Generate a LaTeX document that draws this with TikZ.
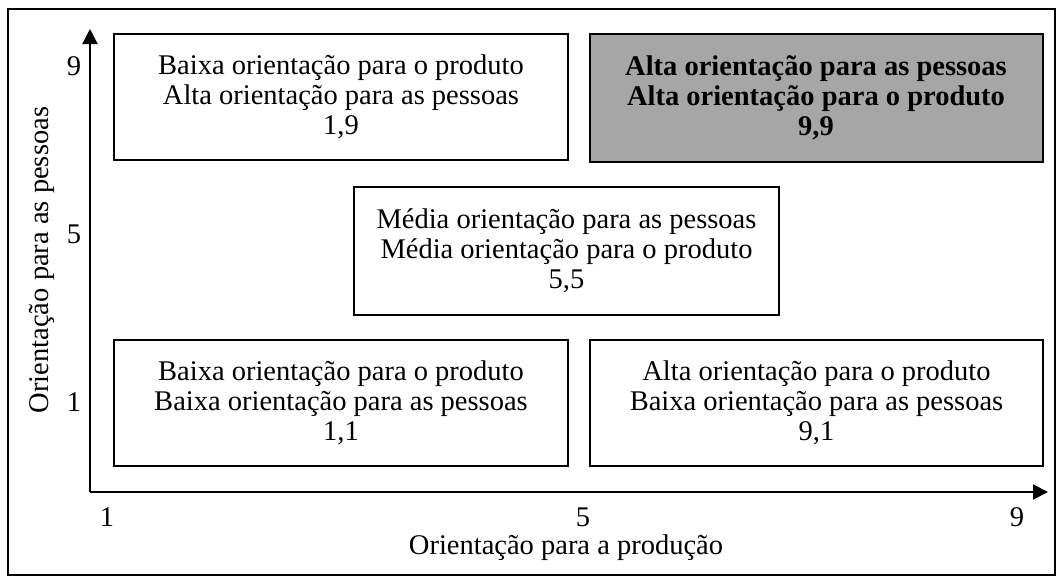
\documentclass[tikz,border=0pt]{standalone}
\usepackage{fontspec}
\setmainfont{Liberation Serif}
\usetikzlibrary{arrows.meta}
\definecolor{boxgray}{HTML}{A6A6A6}
\tikzset{
  quad/.style={draw=black, line width=2pt, minimum width=454pt, minimum height=126pt,
    align=center, font=\fontsize{28.5}{30}\selectfont, inner sep=0pt},
  tick/.style={font=\fontsize{28.5}{30}\selectfont, inner sep=0pt},
  axlabel/.style={font=\fontsize{28.5}{30}\selectfont, inner sep=0pt},
  axis/.style={line width=2pt, -{Triangle[length=15pt,width=15pt]}}
}
\begin{document}
\begin{tikzpicture}[x=1pt,y=-1pt]
\useasboundingbox (0,0) rectangle (1063,582);
\draw[line width=2pt] (8,9) rectangle (1055,575);
% boxes
\node[quad] (b19) at (341,97) {Baixa orientação para o produto\\Alta orientação para as pessoas\\1,9};
\node[quad, fill=boxgray, minimum width=453pt, minimum height=128pt] (b99) at (816,98) {\bfseries Alta orientação para as pessoas\\\bfseries Alta orientação para o produto\\\bfseries 9,9};
\node[quad, minimum width=425pt, minimum height=128pt] (b55) at (566.5,251) {Média orientação para as pessoas\\Média orientação para o produto\\5,5};
\node[quad] (b11) at (341,403) {Baixa orientação para o produto\\Baixa orientação para as pessoas\\1,1};
\node[quad, minimum width=453pt] (b91) at (816.5,403) {Alta orientação para o produto\\Baixa orientação para as pessoas\\9,1};
% axes
\coordinate (o) at (90,492);
\coordinate (ytop) at (90,29);
\coordinate (xend) at (1048,492);
\draw[axis] (o) -- (ytop);
\draw[axis] (o) -- (xend);
% ticks
\node[tick, anchor=base] (y9) at (74,75) {9};
\node[tick, anchor=base] (y5) at (74,243) {5};
\node[tick, anchor=base] (y1) at (74,411) {1};
\node[tick, anchor=base] (x1) at (107,526) {1};
\node[tick, anchor=base] (x5) at (583,526) {5};
\node[tick, anchor=base] (x9) at (1017,526) {9};
% axis labels
\node[axlabel, anchor=base] (xl) at (566,554) {Orientação para a produção};
\node[axlabel, rotate=90, anchor=base] (yl) at (48,260) {Orientação para as pessoas};
\end{tikzpicture}
\end{document}
